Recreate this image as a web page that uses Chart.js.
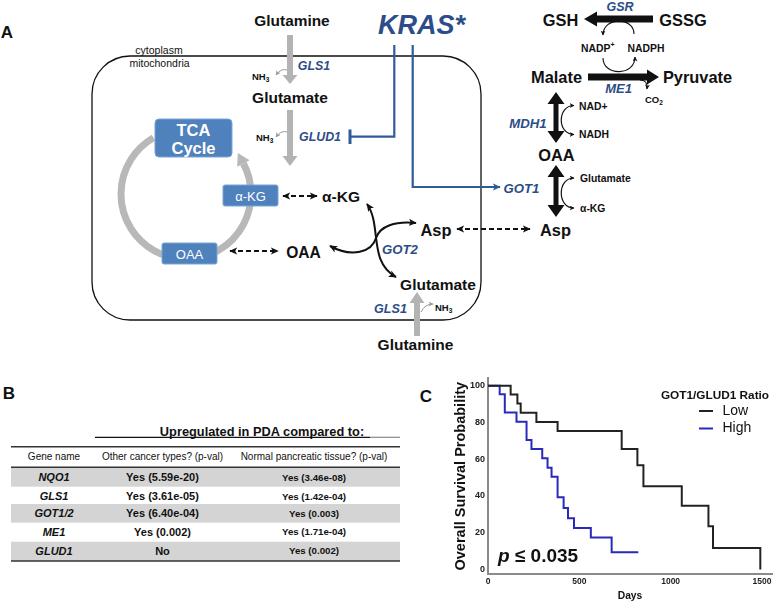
<!DOCTYPE html>
<html lang="en">
<head>
    <meta charset="UTF-8">
    <title>KRAS glutamine metabolism</title>
    <script src="https://cdn.jsdelivr.net/npm/chart.js"></script>
    <style>
        body {
            margin: 0;
            padding: 0;
            background: #ffffff;
            width: 778px;
            height: 605px;
            overflow: hidden;
            position: relative;
            font-family: Arial, 'Liberation Sans', sans-serif;
        }

        #diagram {
            position: absolute;
            left: 0;
            top: 0;
        }

        #kmBox {
            position: absolute;
            left: 420px;
            top: 370px;
            width: 358px;
            height: 235px;
        }

        svg text {
            font-family: Arial, 'Liberation Sans', sans-serif;
            fill: #111;
            dominant-baseline: central;
            text-anchor: middle;
        }

        svg .b { font-weight: bold; }
        svg .gene { font-weight: bold; font-style: italic; fill: #2c4d87; }
        svg .sm { font-size: 10.4px; font-weight: bold; text-anchor: start; }
        svg .wt { fill: #ffffff; }
    </style>
</head>
<body>

<svg id="diagram" width="778" height="605" viewBox="0 0 778 605">
    <defs>
        <marker id="hk" viewBox="0 0 10 10" refX="9" refY="5" markerWidth="8" markerHeight="8"
                markerUnits="userSpaceOnUse" orient="auto-start-reverse">
            <path d="M0,0.5 L10,5 L0,9.5 L2.5,5 z" fill="#111"/>
        </marker>
        <marker id="hs" viewBox="0 0 10 10" refX="9" refY="5" markerWidth="5" markerHeight="5"
                markerUnits="userSpaceOnUse" orient="auto-start-reverse">
            <path d="M0,0 L10,5 L0,10 L3,5 z" fill="#111"/>
        </marker>
        <marker id="hg" viewBox="0 0 10 10" refX="9" refY="5" markerWidth="5" markerHeight="5"
                markerUnits="userSpaceOnUse" orient="auto">
            <path d="M0,0 L10,5 L0,10 L3,5 z" fill="#9a9a9a"/>
        </marker>
        <marker id="hb" viewBox="0 0 10 10" refX="9" refY="5" markerWidth="8" markerHeight="8"
                markerUnits="userSpaceOnUse" orient="auto">
            <path d="M0,0.5 L10,5 L0,9.5 L2.5,5 z" fill="#2f5b9b"/>
        </marker>
    </defs>

    <!-- panel A -->
    <text x="7" y="32" class="b" style="font-size:17px">A</text>

    <!-- cell / mitochondria boundary -->
    <rect x="92" y="56" width="389" height="264" rx="38" fill="none" stroke="#111" stroke-width="1.3"/>
    <text x="159" y="50" style="font-size:10.5px">cytoplasm</text>
    <text x="159.5" y="63" style="font-size:10.5px">mitochondria</text>

    <!-- glutaminolysis column -->
    <text x="292" y="20" class="b" style="font-size:15.4px">Glutamine</text>
    <rect x="287" y="35" width="6" height="41" fill="#b3b3b3"/>
    <polygon points="282.5,75 297.5,75 290,84" fill="#b3b3b3"/>
    <path d="M287,70 Q281,68 276,75" fill="none" stroke="#9a9a9a" stroke-width="1" marker-end="url(#hg)"/>
    <text x="252" y="76" class="sm" style="font-size:9.5px">NH<tspan dy="3" style="font-size:6.5px">3</tspan></text>
    <text x="314" y="66" class="gene" style="font-size:12.4px">GLS1</text>
    <text x="290" y="97" class="b" style="font-size:15.5px">Glutamate</text>
    <rect x="287" y="110" width="6" height="47" fill="#b3b3b3"/>
    <polygon points="282.5,156 297.5,156 290,166" fill="#b3b3b3"/>
    <path d="M287,132 Q281,130 276,137" fill="none" stroke="#9a9a9a" stroke-width="1" marker-end="url(#hg)"/>
    <text x="256" y="137" class="sm" style="font-size:9.5px">NH<tspan dy="3" style="font-size:6.5px">3</tspan></text>
    <text x="320" y="137" class="gene" style="font-size:12.4px">GLUD1</text>

    <!-- KRAS -->
    <text x="421.5" y="25" class="gene" style="font-size:27px">KRAS*</text>
    <path d="M394.3,45 V136.7 H350" fill="none" stroke="#2f5b9b" stroke-width="2.2"/>
    <path d="M350,129.5 V144" fill="none" stroke="#2f5b9b" stroke-width="3"/>
    <path d="M412.7,45 V187 H500" fill="none" stroke="#2f5b9b" stroke-width="2.2" marker-end="url(#hb)"/>
    <text x="521.5" y="188" class="gene" style="font-size:13.2px">GOT1</text>

    <!-- TCA cycle -->
    <path d="M153.5,137.7 A65,65 0 1 0 251,194" fill="none" stroke="#b8b8b8" stroke-width="7"/>
    <path d="M251,194 A65,65 0 0 0 243.4,163.5" fill="none" stroke="#b8b8b8" stroke-width="7"/>
    <polygon points="237.8,152.9 249.6,160.2 237.2,166.8" fill="#b8b8b8"/>
    <rect x="155" y="119" width="77" height="38" rx="4" fill="#4f81bd" stroke="#7aa3d6" stroke-width="1"/>
    <text x="193.5" y="130" class="b wt" style="font-size:16.5px">TCA</text>
    <text x="193.5" y="148" class="b wt" style="font-size:16.5px">Cycle</text>
    <rect x="223" y="185" width="55" height="21" rx="2" fill="#4f81bd" stroke="#7aa3d6" stroke-width="1"/>
    <text x="250.5" y="196" class="wt" style="font-size:13px">α-KG</text>
    <rect x="162" y="243" width="55" height="21" rx="2" fill="#4f81bd" stroke="#7aa3d6" stroke-width="1"/>
    <text x="189.5" y="254" class="wt" style="font-size:13px">OAA</text>

    <!-- transport between compartments -->
    <line x1="283" y1="196" x2="317" y2="196" stroke="#111" stroke-width="2" stroke-dasharray="5,3"
          marker-start="url(#hk)" marker-end="url(#hk)"/>
    <text x="341" y="196" class="b" style="font-size:15.5px">α-KG</text>
    <line x1="230" y1="251" x2="278" y2="251" stroke="#111" stroke-width="2" stroke-dasharray="5,3"
          marker-start="url(#hk)" marker-end="url(#hk)"/>
    <text x="303.5" y="252" class="b" style="font-size:15.6px">OAA</text>

    <!-- GOT2 -->
    <path d="M367,204 C382,225 368,262 396,277" fill="none" stroke="#111" stroke-width="2"
          marker-start="url(#hk)" marker-end="url(#hk)"/>
    <path d="M330,246 C352,258 372,252 376,238 C380,226 395,221 416,223" fill="none" stroke="#111" stroke-width="2"
          marker-start="url(#hk)" marker-end="url(#hk)"/>
    <text x="400" y="249.5" class="gene" style="font-size:13.2px">GOT2</text>
    <text x="436" y="230" class="b" style="font-size:16.4px">Asp</text>
    <line x1="457" y1="229" x2="530" y2="229" stroke="#111" stroke-width="2" stroke-dasharray="5,3"
          marker-start="url(#hk)" marker-end="url(#hk)"/>
    <text x="555.5" y="230" class="b" style="font-size:16.4px">Asp</text>
    <text x="438" y="284" class="b" style="font-size:15.5px">Glutamate</text>
    <rect x="414" y="302" width="6" height="34" fill="#b3b3b3"/>
    <polygon points="409.5,303 424.5,303 417,292" fill="#b3b3b3"/>
    <path d="M421,312 Q425,304 433,304" fill="none" stroke="#9a9a9a" stroke-width="1" marker-end="url(#hg)"/>
    <text x="435" y="307" class="sm" style="font-size:9.5px">NH<tspan dy="3" style="font-size:6.5px">3</tspan></text>
    <text x="390.5" y="309" class="gene" style="font-size:12.6px">GLS1</text>
    <text x="415.5" y="344.5" class="b" style="font-size:15.5px">Glutamine</text>

    <!-- cytosolic route -->
    <polygon points="556,165 564.5,177 558.5,177 558.5,205 564.5,205 556,217 547.5,205 553.5,205 553.5,177 547.5,177" fill="#111"/>
    <path d="M574,178 C557,178 557,208 574,208" fill="none" stroke="#111" stroke-width="1.2"
          marker-start="url(#hs)" marker-end="url(#hs)"/>
    <text x="580" y="178" class="sm">Glutamate</text>
    <text x="580" y="208" class="sm">α-KG</text>
    <text x="556.5" y="154.5" class="b" style="font-size:16.4px">OAA</text>

    <polygon points="556,92 564.5,104 558.5,104 558.5,131 564.5,131 556,143 547.5,131 553.5,131 553.5,104 547.5,104" fill="#111"/>
    <path d="M574,105.5 C557,105.5 557,134.5 574,134.5" fill="none" stroke="#111" stroke-width="1.2"
          marker-start="url(#hs)" marker-end="url(#hs)"/>
    <text x="579" y="106" class="sm">NAD+</text>
    <text x="579" y="134" class="sm">NADH</text>
    <text x="528" y="123" class="gene" style="font-size:13.2px">MDH1</text>

    <text x="556.5" y="77" class="b" style="font-size:16.4px">Malate</text>
    <polygon points="588,73.5 647,73.5 647,69.5 659,77 647,84.5 647,80.5 588,80.5" fill="#111"/>
    <text x="697.5" y="77" class="b" style="font-size:16.4px">Pyruvate</text>
    <text x="618.5" y="88.5" class="gene" style="font-size:13px">ME1</text>
    <path d="M640,80 Q648,80 647,89" fill="none" stroke="#111" stroke-width="1.1" marker-end="url(#hs)"/>
    <text x="645" y="99" class="sm" style="font-size:9.5px">CO<tspan dy="3" style="font-size:6.5px">2</tspan></text>

    <path d="M603,58 C603,76.3 635,76.3 635,57" fill="none" stroke="#111" stroke-width="1.1" marker-end="url(#hs)"/>
    <text x="581" y="48" class="sm">NADP<tspan dy="-4" style="font-size:7px">+</tspan></text>
    <text x="627.5" y="48" class="sm">NADPH</text>
    <path d="M634,34 C634,16.7 603,16.7 603,35" fill="none" stroke="#111" stroke-width="1.1" marker-end="url(#hs)"/>

    <text x="560.5" y="19.5" class="b" style="font-size:16.4px">GSH</text>
    <polygon points="653,15.5 597,15.5 597,11.5 584,19 597,26.5 597,22.5 653,22.5" fill="#111"/>
    <text x="683" y="19.5" class="b" style="font-size:16.4px">GSSG</text>
    <text x="620" y="7" class="gene" style="font-size:12.5px">GSR</text>

    <!-- panel B -->
    <text x="9" y="393.5" class="b" style="font-size:17px">B</text>
    <text x="262" y="431" class="b" style="font-size:12.8px">Upregulated in PDA compared to:</text>
    <line x1="95" y1="437.3" x2="370" y2="437.3" stroke="#111" stroke-width="1.2"/>
    <line x1="370" y1="437.3" x2="400" y2="437.3" stroke="#888" stroke-width="1.2"/>
    <rect x="11" y="467.3" width="389" height="19.4" fill="#d4d4d4"/>
    <rect x="11" y="504" width="389" height="18.7" fill="#d4d4d4"/>
    <rect x="11" y="541.7" width="389" height="19.3" fill="#d4d4d4"/>
    <line x1="11" y1="446.7" x2="400" y2="446.7" stroke="#333" stroke-width="1.5"/>
    <line x1="11" y1="467.3" x2="400" y2="467.3" stroke="#333" stroke-width="1.5"/>
    <line x1="11" y1="561" x2="400" y2="561" stroke="#333" stroke-width="1.5"/>
    <g id="tableText"></g>

    <!-- panel C letter -->
    <text x="426" y="396.5" class="b" style="font-size:17px">C</text>
</svg>

<div id="kmBox">
    <canvas id="kmCanvas" width="358" height="235"></canvas>
</div>

<script>
    // Tabla del panel B
    const tableHeaders = ['Gene name', 'Other cancer types? (p-val)', 'Normal pancreatic tissue? (p-val)'];
    const geneNames = ['NQO1', 'GLS1', 'GOT1/2', 'ME1', 'GLUD1'];
    const vsOtherCancers = ['Yes (5.59e-20)', 'Yes (3.61e-05)', 'Yes (6.40e-04)', 'Yes (0.002)', 'No'];
    const vsNormalTissue = ['Yes (3.46e-08)', 'Yes (1.42e-04)', 'Yes (0.003)', 'Yes (1.71e-04)', 'Yes (0.002)'];

    // Curvas de supervivencia (Kaplan-Meier), panel C
    const seriesNames = ['Low', 'High'];
    const lowDays = [0, 124, 161, 179, 265, 381, 732, 818, 851, 1061, 1207, 1232, 1491];
    const lowSurvival = [100, 95.3, 90.4, 85.3, 80.3, 75.4, 65.6, 56.7, 45.3, 34.7, 23.5, 11.6, 0];
    const highDays = [0, 64, 92, 156, 211, 238, 297, 326, 348, 381, 414, 438, 471, 563, 677, 823];
    const highSurvival = [100, 95.4, 85.4, 80.4, 70.5, 65.5, 60.5, 55.4, 50.4, 39.3, 33.4, 27.9, 22.5, 17.4, 9.3, 9.3];
    const xTicks = [0, 500, 1000, 1500];
    const yTicks = [0, 20, 40, 60, 80, 100];

    const FONT = "Arial, 'Liberation Sans', sans-serif";

    // Escribir el texto de la tabla
    function buildTable() {
        const g = document.getElementById('tableText');
        const ns = 'http://www.w3.org/2000/svg';
        const colX = [54, 162.5, 314];
        const rowY = [477.3, 496, 513.3, 531.7, 550.7];
        function addText(x, y, str, style) {
            const t = document.createElementNS(ns, 'text');
            t.setAttribute('x', x);
            t.setAttribute('y', y);
            t.setAttribute('style', style);
            t.textContent = str;
            g.appendChild(t);
        }
        tableHeaders.forEach((h, i) => addText(colX[i], 456, h, 'font-size:10px'));
        geneNames.forEach((name, r) => {
            addText(colX[0], rowY[r], name, 'font-size:11px;font-weight:bold;font-style:italic');
            addText(colX[1], rowY[r], vsOtherCancers[r], 'font-size:11px;font-weight:bold');
            addText(colX[2], rowY[r], vsNormalTissue[r], 'font-size:9.7px;font-weight:bold');
        });
    }
    buildTable();

    // Leyenda y valor p dibujados sobre la gráfica
    const notesPlugin = {
        id: 'notes',
        afterDraw(chart) {
            const ctx = chart.ctx;
            ctx.save();
            ctx.fillStyle = '#111';
            ctx.textBaseline = 'middle';
            ctx.textAlign = 'center';
            ctx.font = 'bold 11.8px ' + FONT;
            ctx.fillText('GOT1/GLUD1 Ratio', 295, 26);
            chart.data.datasets.forEach((ds, i) => {
                const y = 41 + i * 17.5;
                ctx.strokeStyle = ds.borderColor;
                ctx.lineWidth = 2;
                ctx.beginPath();
                ctx.moveTo(279, y);
                ctx.lineTo(293, y);
                ctx.stroke();
                ctx.font = '14px ' + FONT;
                ctx.textAlign = 'left';
                ctx.fillText(ds.label, 302.5, y);
            });
            ctx.textAlign = 'left';
            ctx.font = 'italic bold 19px ' + FONT;
            ctx.fillText('p', 78, 187);
            const w = ctx.measureText('p ').width;
            ctx.font = 'bold 19px ' + FONT;
            ctx.fillText('≤ 0.035', 78 + w, 187);
            ctx.restore();
        }
    };

    new Chart(document.getElementById('kmCanvas').getContext('2d'), {
        type: 'line',
        data: {
            datasets: [{
                label: seriesNames[0],
                data: lowDays.map((d, i) => ({ x: d, y: lowSurvival[i] })),
                borderColor: '#222222',
                borderWidth: 2,
                stepped: 'before',
                pointRadius: 0,
                fill: false
            }, {
                label: seriesNames[1],
                data: highDays.map((d, i) => ({ x: d, y: highSurvival[i] })),
                borderColor: '#2a2ab8',
                borderWidth: 2,
                stepped: 'before',
                pointRadius: 0,
                fill: false
            }]
        },
        options: {
            responsive: false,
            animation: false,
            devicePixelRatio: 1,
            layout: { padding: { top: 8, right: 6, left: 0, bottom: 0 } },
            plugins: {
                legend: { display: false },
                tooltip: { enabled: false }
            },
            scales: {
                x: {
                    type: 'linear',
                    min: 0,
                    max: 1555,
                    grid: { display: false, drawTicks: false },
                    border: { display: true, color: '#8a8a8a', width: 2 },
                    ticks: {
                        padding: 3,
                        color: '#222',
                        font: { family: FONT, size: 8.5, weight: 'bold' },
                        callback: v => String(v)
                    },
                    afterBuildTicks: scale => { scale.ticks = xTicks.map(v => ({ value: v })); },
                    afterFit: scale => { scale.height = 31; },
                    title: {
                        display: true,
                        text: 'Days',
                        color: '#111',
                        padding: { top: 0, bottom: 2.5 },
                        font: { family: FONT, size: 10.3, weight: 'bold' }
                    }
                },
                y: {
                    min: -2.5,
                    max: 104,
                    grid: { display: false, drawTicks: false },
                    border: { display: true, color: '#8a8a8a', width: 2 },
                    ticks: {
                        padding: 3,
                        color: '#222',
                        font: { family: FONT, size: 9, weight: 'bold' },
                        callback: v => String(v)
                    },
                    afterBuildTicks: scale => { scale.ticks = yTicks.map(v => ({ value: v })); },
                    afterFit: scale => { scale.width = 68; },
                    title: {
                        display: true,
                        text: 'Overall Survival Probability',
                        color: '#111',
                        padding: { top: 32, bottom: 0 },
                        font: { family: FONT, size: 14.5, weight: 'bold' }
                    }
                }
            }
        },
        plugins: [notesPlugin]
    });
</script>
</body>
</html>
